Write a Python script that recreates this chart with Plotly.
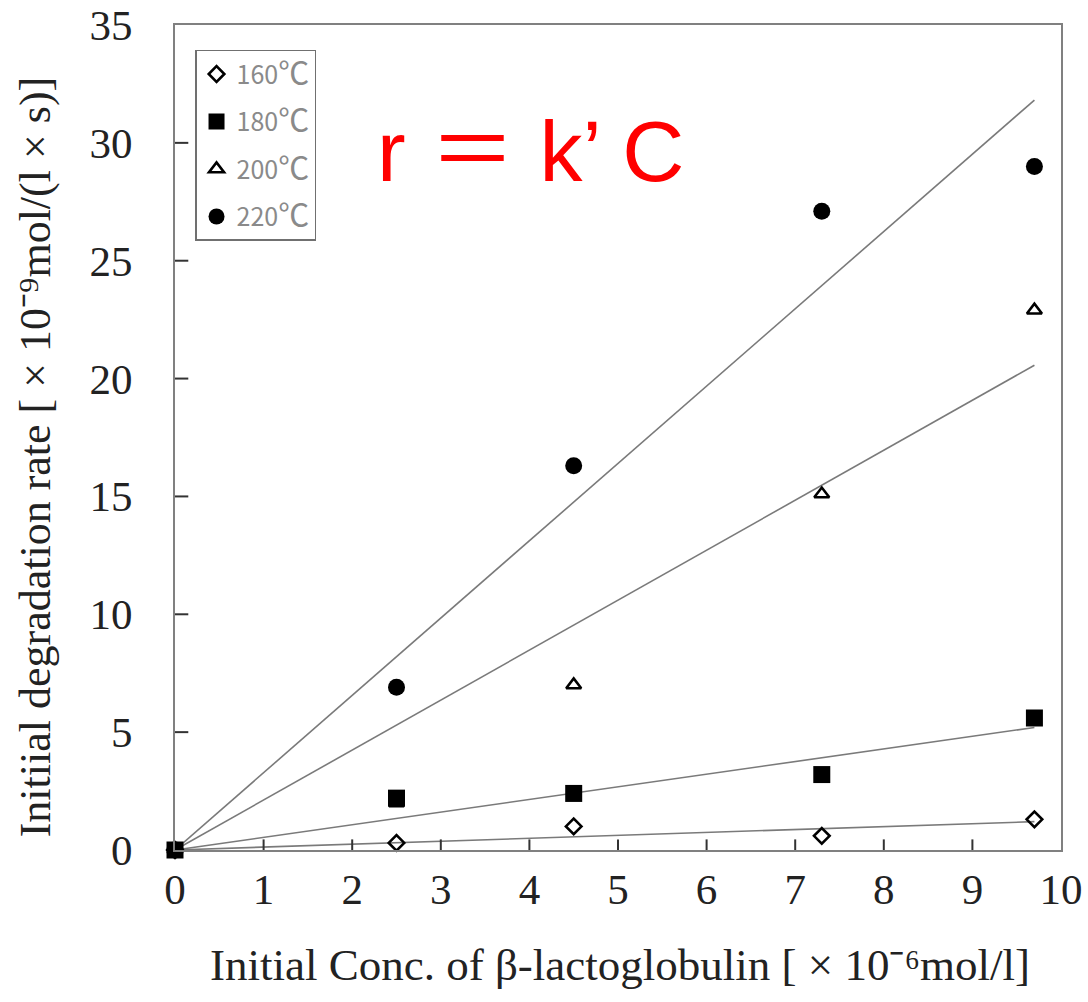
import plotly.graph_objects as go

# ---- data ----
conc = [0, 2.5, 4.5, 7.3, 9.7]          # x10^-6 mol/l
rate_160 = [0, 0.3, 1.0, 0.6, 1.3]
rate_180 = [0, 2.2, 2.4, 3.2, 5.6]
rate_200 = [0, 2.0, 7.0, 15.1, 22.9]
rate_220 = [0, 6.9, 16.3, 27.1, 29.0]
series_temps = ["160", "180", "200", "220"]
slopes = [0.124, 0.536, 2.12, 3.28]     # k' of fitted lines r = k'C
fit_x = [0, 9.7]
x_ticks = list(range(0, 11))
y_ticks = list(range(0, 36, 5))

series = [rate_160, rate_180, rate_200, rate_220]
symbols = ["diamond-open", "square", "triangle-up-open", "circle"]
sizes = [12, 17, 13, 17]

fig = go.Figure()

# fitted lines
for k in slopes:
    fig.add_trace(go.Scatter(
        x=fit_x, y=[k * v for v in fit_x], mode="lines",
        line=dict(color="#7a7a7a", width=1.6), showlegend=False, hoverinfo="skip"))

# data points
for i, (temp, ys) in enumerate(zip(series_temps, series)):
    fig.add_trace(go.Scatter(
        x=conc, y=ys, mode="markers",
        name=f"{temp}<span style=\"font-size:31px\">℃</span>",
        legendgroup=temp, cliponaxis=False,
        marker=dict(symbol=symbols[i], size=sizes[i], color="black",
                    line=dict(color="black", width=2.6 if "open" in symbols[i] else 0))))

serif = "Liberation Serif, Times New Roman, serif"
tick_font = dict(family=serif, size=43, color="#222222")
title_font = dict(family=serif, size=45, color="#222222")

fig.update_layout(
    width=1088, height=1002,
    margin=dict(l=175, r=27, t=25, b=152),
    paper_bgcolor="white", plot_bgcolor="white",
    showlegend=True,
    legend=dict(
        x=0.0226, y=0.97, xanchor="left", yanchor="top",
        bgcolor="white", bordercolor="#707070", borderwidth=1.5,
        font=dict(family="Noto Sans CJK JP, Noto Sans, sans-serif", size=25, color="#8a8a8a"),
        traceorder="grouped", tracegroupgap=12, itemwidth=30,
    ),
    xaxis=dict(
        range=[0, 10], tickvals=x_ticks, ticks="", showline=True, linecolor="#808080",
        linewidth=2, mirror=True, showgrid=False, zeroline=False, tickfont=tick_font,
        ticklabelstandoff=0, automargin=False,
    ),
    yaxis=dict(
        range=[0, 35], tickvals=y_ticks, ticks="", showline=True, linecolor="#808080",
        linewidth=2, mirror=True, showgrid=False, zeroline=False, tickfont=tick_font,
        ticklabelstandoff=32, automargin=False,
    ),
)

# inside tick marks drawn at the tick values
for v in x_ticks[1:-1]:
    fig.add_shape(type="line", xref="x", yref="y", x0=v, x1=v, y0=0, y1=0.45,
                  line=dict(color="#333333", width=2), layer="above")
for v in y_ticks[1:-1]:
    fig.add_shape(type="line", xref="x", yref="y", x0=0, x1=0.15, y0=v, y1=v,
                  line=dict(color="#333333", width=2), layer="above")

# axis titles
fig.add_annotation(
    text="Initial Conc. of β-lactoglobulin [ × 10⁻⁶mol/l]",
    xref="paper", yref="paper", x=0.502, y=-0.139, xanchor="center", yanchor="middle",
    showarrow=False, font=title_font)
fig.add_annotation(
    text="Initiial degradation rate [ × 10⁻⁹mol/(l × s)]",
    xref="paper", yref="paper", x=-0.158, y=0.476, xanchor="center", yanchor="middle",
    textangle=-90, showarrow=False, font=dict(family=serif, size=44, color="#222222"))

cjk = "font-family:'Noto Sans CJK JP'"
fig.add_annotation(
    text=f"r <span style=\"{cjk}\">＝</span> k’ C",
    xref="paper", yref="paper", x=0.226, y=0.856,
    xanchor="left", yanchor="middle", showarrow=False,
    font=dict(family="Liberation Sans, Arial, sans-serif", size=86, color="#ff0000"))

fig.write_html("out.html")
